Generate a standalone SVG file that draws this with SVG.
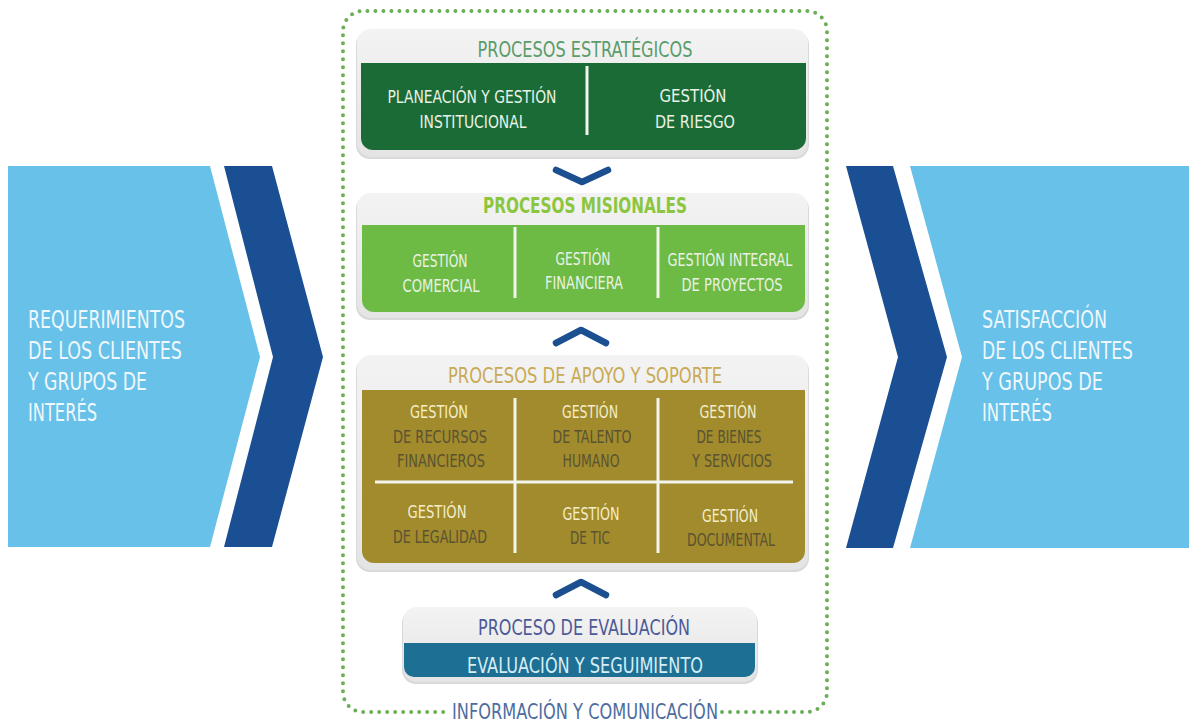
<svg xmlns="http://www.w3.org/2000/svg" width="1189" height="724" viewBox="0 0 1189 724">
<defs>
<style>
text{font-family:"Liberation Sans Narrow","DejaVu Sans Condensed","Liberation Sans",sans-serif;font-stretch:condensed;}
.side{fill:#eef7fc;font-size:25px;}
.hdr{font-size:22px;text-anchor:middle;}
.cell{font-size:18px;text-anchor:middle;}
.wt{fill:#e9f2e6;}
.cream{fill:#f4edc9;}
.dk{fill:#5a5232;}
.panel{fill:url(#pg);}
.rim{fill:#d9d9d9;}
.div{stroke:#f2f5ee;stroke-width:3;}
.chev{fill:none;stroke:#1b4f8f;stroke-width:6.5;stroke-linejoin:round;stroke-linecap:round;}
</style>
<linearGradient id="pg" x1="0" y1="0" x2="0" y2="1">
<stop offset="0" stop-color="#f3f3f3"/>
<stop offset="1" stop-color="#e4e4e4"/>
</linearGradient>
</defs>
<rect width="1189" height="724" fill="#ffffff"/>

<g id="entrada">
<polygon points="8,166 210,166 260,357 210,547 8,547" fill="#68c1e8"/>
<polygon points="224,166 272,166 323,357 272,547 224,547 273,357" fill="#1b4f93"/>
<text class="side" x="28" y="328" textLength="157" lengthAdjust="spacingAndGlyphs">REQUERIMIENTOS</text>
<text class="side" x="28" y="359" textLength="154" lengthAdjust="spacingAndGlyphs">DE LOS CLIENTES</text>
<text class="side" x="28" y="390" textLength="119" lengthAdjust="spacingAndGlyphs">Y GRUPOS DE</text>
<text class="side" x="28" y="421" textLength="69" lengthAdjust="spacingAndGlyphs">INTERÉS</text>
</g>

<g id="salida">
<polygon points="910,166 1189,166 1189,548 910,548 962,357" fill="#68c1e8"/>
<polygon points="846,166 893,166 947,357 893,548 846,548 898,357" fill="#1b4f93"/>
<text class="side" x="982" y="328" textLength="125" lengthAdjust="spacingAndGlyphs">SATISFACCIÓN</text>
<text class="side" x="982" y="359" textLength="151" lengthAdjust="spacingAndGlyphs">DE LOS CLIENTES</text>
<text class="side" x="982" y="390" textLength="121" lengthAdjust="spacingAndGlyphs">Y GRUPOS DE</text>
<text class="side" x="982" y="421" textLength="70" lengthAdjust="spacingAndGlyphs">INTERÉS</text>
</g>

<g id="marco">
<path d="M722 712 H807 A20 20 0 0 0 827 692 V31 A20 20 0 0 0 807 11 H363 A20 20 0 0 0 343 31 V692 A20 20 0 0 0 363 712 H448" fill="none" stroke="#6cae58" stroke-width="4" stroke-linecap="round" stroke-dasharray="0 8"/>
<text class="hdr" x="585" y="719" fill="#4d6da0" font-size="23" textLength="266" lengthAdjust="spacingAndGlyphs">INFORMACIÓN Y COMUNICACIÓN</text>
</g>

<g id="estrategicos">
<rect class="rim" x="356" y="31" width="453" height="128" rx="14"/>
<rect class="panel" x="357" y="29" width="451" height="128" rx="14"/>
<path d="M361 63 H806 V138 A12 12 0 0 1 794 150 H373 A12 12 0 0 1 361 138 Z" fill="#1b6b37"/>
<text class="hdr" x="585" y="57" fill="#5b9c6c" font-size="23" textLength="215" lengthAdjust="spacingAndGlyphs">PROCESOS ESTRATÉGICOS</text>
<line class="div" x1="587" y1="66" x2="587" y2="135"/>
<text class="cell wt" x="472" y="103" textLength="169" lengthAdjust="spacingAndGlyphs">PLANEACIÓN Y GESTIÓN</text>
<text class="cell wt" x="473" y="128" textLength="107" lengthAdjust="spacingAndGlyphs">INSTITUCIONAL</text>
<text class="cell wt" x="693" y="102" textLength="67" lengthAdjust="spacingAndGlyphs">GESTIÓN</text>
<text class="cell wt" x="695" y="128" textLength="80" lengthAdjust="spacingAndGlyphs">DE RIESGO</text>
</g>

<g id="misionales">
<rect class="rim" x="356" y="195" width="453" height="125" rx="14"/>
<rect class="panel" x="357" y="193" width="451" height="125" rx="14"/>
<path d="M362 225 H805 V300 A12 12 0 0 1 793 312 H374 A12 12 0 0 1 362 300 Z" fill="#6dba45"/>
<text class="hdr" x="585" y="213" fill="#8cc63f" font-weight="bold" textLength="204" lengthAdjust="spacingAndGlyphs">PROCESOS MISIONALES</text>
<line class="div" x1="515" y1="227" x2="515" y2="298"/>
<line class="div" x1="658" y1="227" x2="658" y2="298"/>
<text class="cell wt" x="440" y="267" textLength="55" lengthAdjust="spacingAndGlyphs">GESTIÓN</text>
<text class="cell wt" x="441" y="292" textLength="77" lengthAdjust="spacingAndGlyphs">COMERCIAL</text>
<text class="cell wt" x="583" y="265" textLength="55" lengthAdjust="spacingAndGlyphs">GESTIÓN</text>
<text class="cell wt" x="584" y="289" textLength="78" lengthAdjust="spacingAndGlyphs">FINANCIERA</text>
<text class="cell wt" x="730" y="266" textLength="125" lengthAdjust="spacingAndGlyphs">GESTIÓN INTEGRAL</text>
<text class="cell wt" x="732" y="291" textLength="101" lengthAdjust="spacingAndGlyphs">DE PROYECTOS</text>
</g>

<g id="apoyo">
<rect class="rim" x="356" y="357" width="453" height="215" rx="14"/>
<rect class="panel" x="357" y="355" width="451" height="215" rx="14"/>
<path d="M362 390 H805 V551 A12 12 0 0 1 793 563 H374 A12 12 0 0 1 362 551 Z" fill="#a18b2c"/>
<text class="hdr" x="585" y="383" fill="#c9aa55" textLength="274" lengthAdjust="spacingAndGlyphs">PROCESOS DE APOYO Y SOPORTE</text>
<line class="div" x1="515" y1="398" x2="515" y2="553"/>
<line class="div" x1="658" y1="398" x2="658" y2="553"/>
<line class="div" x1="375" y1="482" x2="793" y2="482"/>
<text class="cell cream" x="439" y="418" textLength="58" lengthAdjust="spacingAndGlyphs">GESTIÓN</text>
<text class="cell dk" x="440" y="443" textLength="94" lengthAdjust="spacingAndGlyphs">DE RECURSOS</text>
<text class="cell dk" x="441" y="467" textLength="88" lengthAdjust="spacingAndGlyphs">FINANCIEROS</text>
<text class="cell cream" x="590" y="418" textLength="56" lengthAdjust="spacingAndGlyphs">GESTIÓN</text>
<text class="cell dk" x="592" y="443" textLength="79" lengthAdjust="spacingAndGlyphs">DE TALENTO</text>
<text class="cell dk" x="591" y="467" textLength="57" lengthAdjust="spacingAndGlyphs">HUMANO</text>
<text class="cell cream" x="728" y="418" textLength="57" lengthAdjust="spacingAndGlyphs">GESTIÓN</text>
<text class="cell dk" x="729" y="443" textLength="65" lengthAdjust="spacingAndGlyphs">DE BIENES</text>
<text class="cell dk" x="732" y="467" textLength="80" lengthAdjust="spacingAndGlyphs">Y SERVICIOS</text>
<text class="cell cream" x="437" y="518" textLength="59" lengthAdjust="spacingAndGlyphs">GESTIÓN</text>
<text class="cell dk" x="440" y="543" textLength="94" lengthAdjust="spacingAndGlyphs">DE LEGALIDAD</text>
<text class="cell cream" x="591" y="520" textLength="57" lengthAdjust="spacingAndGlyphs">GESTIÓN</text>
<text class="cell dk" x="590" y="544" textLength="40" lengthAdjust="spacingAndGlyphs">DE TIC</text>
<text class="cell cream" x="730" y="522" textLength="56" lengthAdjust="spacingAndGlyphs">GESTIÓN</text>
<text class="cell dk" x="731" y="546" textLength="88" lengthAdjust="spacingAndGlyphs">DOCUMENTAL</text>
</g>

<g id="evaluacion">
<rect class="rim" x="402" y="609" width="356" height="75" rx="14"/>
<rect class="panel" x="403" y="607" width="354" height="75" rx="14"/>
<path d="M404 643 H755 V667 A10 10 0 0 1 745 677 H414 A10 10 0 0 1 404 667 Z" fill="#1e6f94"/>
<text class="hdr" x="584" y="635" fill="#4c5a98" font-size="24" textLength="212" lengthAdjust="spacingAndGlyphs">PROCESO DE EVALUACIÓN</text>
<text class="hdr" x="585" y="673" fill="#d6edf4" font-size="24" textLength="236" lengthAdjust="spacingAndGlyphs">EVALUACIÓN Y SEGUIMIENTO</text>
</g>

<g id="conectores">
<polyline class="chev" points="556,170 582,182 608,170"/>
<polyline class="chev" points="556,343 581,330 606,343"/>
<polyline class="chev" points="556,595 581,582 606,595"/>
</g>
</svg>
